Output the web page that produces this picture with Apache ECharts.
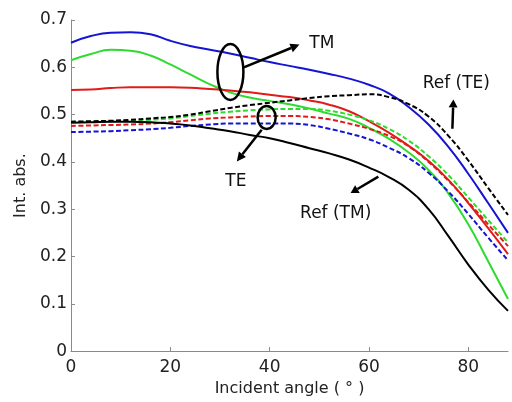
<!DOCTYPE html>
<html>
<head>
<meta charset="utf-8">
<script src="https://cdn.jsdelivr.net/npm/echarts@6/dist/echarts.min.js"></script>
<style>
html,body{margin:0;padding:0;background:#fff;}
#c{width:512px;height:402px;}
</style>
</head>
<body>
<div id="c"></div>
<script>
const angles = [0,4,8,12,16,20,24,28,32,36,40,44,48,52,56,60,64,68,72,76,80,84,88];
const tmBlue   = [0.652,0.666,0.673,0.674,0.670,0.656,0.645,0.637,0.629,0.620,0.611,0.603,0.595,0.586,0.576,0.563,0.545,0.516,0.479,0.432,0.375,0.313,0.250];
const tmGreen  = [0.615,0.628,0.637,0.635,0.625,0.606,0.585,0.564,0.547,0.536,0.529,0.522,0.513,0.502,0.491,0.472,0.449,0.420,0.383,0.333,0.268,0.190,0.110];
const tmRed    = [0.552,0.553,0.556,0.558,0.558,0.558,0.557,0.554,0.551,0.547,0.542,0.537,0.530,0.521,0.507,0.486,0.462,0.434,0.402,0.362,0.313,0.260,0.205];
const refTM    = [0.483,0.484,0.485,0.485,0.484,0.481,0.477,0.471,0.465,0.457,0.450,0.440,0.429,0.418,0.405,0.388,0.368,0.341,0.300,0.243,0.183,0.130,0.085];
const refTE    = [0.485,0.486,0.487,0.489,0.492,0.495,0.500,0.507,0.514,0.520,0.525,0.530,0.535,0.539,0.541,0.543,0.537,0.522,0.496,0.455,0.403,0.345,0.288];
const teGreen  = [0.485,0.485,0.486,0.487,0.489,0.492,0.497,0.502,0.506,0.509,0.511,0.512,0.512,0.508,0.500,0.488,0.470,0.445,0.412,0.372,0.325,0.277,0.230];
const teRed    = [0.476,0.477,0.478,0.479,0.481,0.484,0.488,0.492,0.494,0.496,0.497,0.497,0.495,0.490,0.481,0.470,0.455,0.433,0.400,0.360,0.315,0.268,0.222];
const teBlue   = [0.463,0.464,0.465,0.467,0.469,0.472,0.476,0.479,0.481,0.481,0.481,0.481,0.478,0.470,0.460,0.448,0.430,0.408,0.377,0.337,0.290,0.240,0.192];
const xTicks = [0,20,40,60,80];

const FONT = 'DejaVu Sans';
const chart = echarts.init(document.getElementById('c'), null, {renderer:'canvas'});

function pairs(ys){ return angles.map((x,i)=>[x, ys[i]]); }
function mk(name, ys, color, dashed){
  return {
    name, type:'line', data: pairs(ys), showSymbol:false, smooth:0.5,
    lineStyle:{color, width:2, type: dashed ? [5,2.5] : 'solid'},
    itemStyle:{color}, z: 3
  };
}
const BLUE='#1414d2', GREEN='#2edb2e', RED='#e01b1b', BLACK='#000';

chart.setOption({
  animation:false,
  backgroundColor:'#fff',
  grid:{left:71, right:4, top:20, bottom:50, containLabel:false},
  xAxis:{
    type:'value', min:0, max:88,
    name:'Incident angle ( \u00b0 )', nameLocation:'middle', nameGap:28,
    nameTextStyle:{fontFamily:FONT, fontSize:16, color:'#222'},
    axisLine:{show:true, lineStyle:{color:'#8a8a8a', width:1}},
    axisTick:{show:true, inside:true, length:4, customValues:xTicks, lineStyle:{color:'#8a8a8a'}},
    axisLabel:{customValues:xTicks, fontFamily:FONT, fontSize:17, color:'#222', margin:8},
    splitLine:{show:false}
  },
  yAxis:{
    type:'value', min:0, max:0.7, interval:0.1,
    name:'Int. abs.', nameLocation:'middle', nameGap:40,
    nameTextStyle:{fontFamily:FONT, fontSize:16, color:'#222'},
    axisLine:{show:true, lineStyle:{color:'#8a8a8a', width:1}},
    axisTick:{show:true, inside:true, length:4, lineStyle:{color:'#8a8a8a'}},
    axisLabel:{fontFamily:FONT, fontSize:17, color:'#222', margin:4,
      formatter:v=>{ const r=Math.round(v*10)/10; return r===0?'0':String(r); }},
    splitLine:{show:false}
  },
  series:[
    mk('TM blue', tmBlue, BLUE, false),
    mk('TM green', tmGreen, GREEN, false),
    mk('TM red', tmRed, RED, false),
    mk('TE green', teGreen, GREEN, true),
    mk('TE red', teRed, RED, true),
    mk('TE blue', teBlue, BLUE, true),
    mk('Ref (TE)', refTE, BLACK, true),
    mk('Ref (TM)', refTM, BLACK, false)
  ]
});

const P = (x,y)=>chart.convertToPixel({gridIndex:0},[x,y]);
function arrow(from, to, head){
  const a=P(from[0],from[1]), b=P(to[0],to[1]);
  const ang=Math.atan2(b[1]-a[1], b[0]-a[0]);
  const h=head||9, w=4.5;
  const bx=b[0]-h*Math.cos(ang), by=b[1]-h*Math.sin(ang);
  const px=-Math.sin(ang)*w, py=Math.cos(ang)*w;
  return [
    {type:'line', shape:{x1:a[0],y1:a[1],x2:bx,y2:by}, style:{stroke:'#000',lineWidth:2.5}, z:10},
    {type:'polygon', shape:{points:[[b[0],b[1]],[bx+px,by+py],[bx-px,by-py]]}, style:{fill:'#000'}, z:10}
  ];
}
function ellipse(cx,cy,rx,ry){
  const c=P(cx,cy);
  return {type:'ellipse', shape:{cx:c[0],cy:c[1],rx,ry}, style:{fill:null, stroke:'#000', lineWidth:2.5}, z:10};
}
function label(x,y,t){
  const c=P(x,y);
  return {type:'text', x:c[0], y:c[1], style:{text:t, fontFamily:FONT, fontSize:17, fill:'#111', align:'center', verticalAlign:'middle'}, z:10};
}
const g=[];
g.push(ellipse(32.1,0.590,13,28));
g.push(...arrow([34.8,0.600],[46.0,0.648]));
g.push(label(50.5,0.650,'TM'));
g.push(ellipse(39.4,0.494,9,11.5));
g.push(...arrow([38.4,0.468],[33.4,0.401]));
g.push(label(33.2,0.358,'TE'));
g.push(label(77.6,0.565,'Ref (TE)'));
g.push(...arrow([76.8,0.470],[77.0,0.532],8));
g.push(label(53.3,0.291,'Ref (TM)'));
g.push(...arrow([61.9,0.369],[56.3,0.334],8));
chart.setOption({graphic:g});
</script>
</body>
</html>
